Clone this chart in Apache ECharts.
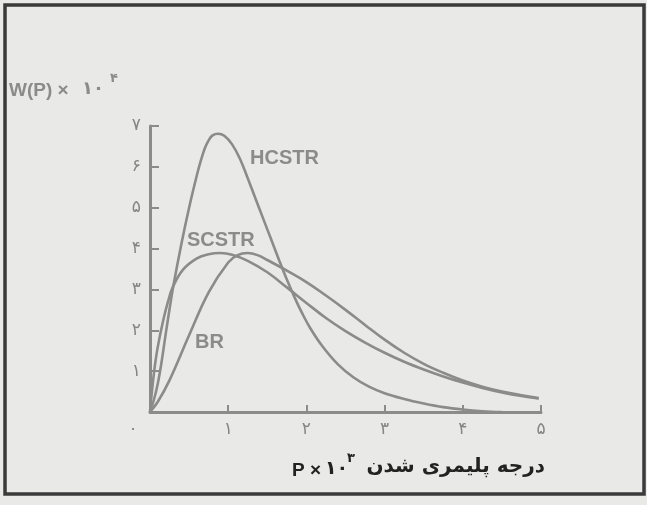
<!DOCTYPE html>
<html>
<head>
<meta charset="utf-8">
<script src="https://cdn.jsdelivr.net/npm/echarts@6/dist/echarts.min.js"></script>
<style>
html,body{margin:0;padding:0;background:#e9e9e8;}
#c{width:647px;height:505px;}
</style>
</head>
<body>
<div id="c"></div>
<script>
// Degree of polymerization P (x 10^3) and weight fraction W(P) (x 10^-4)
var hcstrP = [0, 0.05, 0.1, 0.15, 0.2, 0.25, 0.3, 0.4, 0.5, 0.6, 0.65, 0.7, 0.75, 0.8, 0.87, 0.95, 1.05, 1.15, 1.25, 1.35, 1.45, 1.55, 1.65, 1.75, 1.85, 1.95, 2.05, 2.2, 2.4, 2.6, 2.8, 3.0, 3.25, 3.5, 3.75, 4.0, 4.25, 4.5];
var hcstrW = [0, 0.3, 0.7, 1.25, 1.9, 2.52, 3.1, 4.1, 5.0, 5.8, 6.15, 6.45, 6.65, 6.77, 6.81, 6.76, 6.55, 6.2, 5.72, 5.22, 4.72, 4.22, 3.72, 3.24, 2.80, 2.40, 2.05, 1.62, 1.17, 0.85, 0.62, 0.46, 0.32, 0.21, 0.12, 0.06, 0.02, 0];

var scstrP = [0, 0.03, 0.06, 0.1, 0.17, 0.23, 0.29, 0.42, 0.6, 0.75, 0.9, 1.05, 1.25, 1.5, 1.75, 2.0, 2.25, 2.5, 2.75, 3.0, 3.25, 3.5, 3.75, 4.0, 4.25, 4.5, 4.75, 4.97];
var scstrW = [0, 0.6, 1.1, 1.6, 2.25, 2.7, 3.05, 3.48, 3.76, 3.86, 3.89, 3.85, 3.70, 3.42, 3.05, 2.67, 2.30, 1.98, 1.70, 1.45, 1.23, 1.04, 0.87, 0.72, 0.59, 0.48, 0.39, 0.33];

var brP = [0, 0.1, 0.25, 0.5, 0.75, 1.0, 1.12, 1.25, 1.375, 1.5, 1.75, 2.0, 2.25, 2.5, 2.75, 3.0, 3.25, 3.5, 3.75, 4.0, 4.25, 4.5, 4.75, 4.97];
var brW = [0, 0.25, 0.78, 1.88, 2.93, 3.66, 3.84, 3.89, 3.84, 3.72, 3.46, 3.18, 2.85, 2.5, 2.13, 1.77, 1.45, 1.18, 0.96, 0.77, 0.62, 0.5, 0.41, 0.34];

var xTicks = ['۰', '۱', '۲', '۳', '۴', '۵'];
var yTicks = ['۰', '۱', '۲', '۳', '۴', '۵', '۶', '۷'];

function pairs(p, w) { return p.map(function (v, i) { return [v, w[i]]; }); }

var grey = '#8b8b8b';
var chart = echarts.init(document.getElementById('c'), null, { renderer: 'canvas' });

function lineSeries(name, p, w) {
  return {
    name: name, type: 'line', data: pairs(p, w), smooth: 0.4, showSymbol: false,
    lineStyle: { color: grey, width: 2.6 }, silent: true, animation: false
  };
}

chart.setOption({
  backgroundColor: '#e9e9e8',
  animation: false,
  grid: { left: 150, right: 106, top: 126, bottom: 93 },
  xAxis: {
    type: 'value', min: 0, max: 5, interval: 1,
    axisLine: { lineStyle: { color: grey, width: 3 } },
    axisTick: { inside: true, length: 7, lineStyle: { color: grey, width: 2 } },
    splitLine: { show: false },
    axisLabel: {
      margin: 9, color: '#858585', fontSize: 17, fontFamily: 'DejaVu Sans',
      formatter: function (v) { return v === 0 ? '{z|' + xTicks[0] + '}' : xTicks[v]; },
      rich: { z: { color: '#858585', fontSize: 17, fontFamily: 'DejaVu Sans', padding: [0, 34, 0, 0] } }
    }
  },
  yAxis: {
    type: 'value', min: 0, max: 7, interval: 1,
    axisLine: { lineStyle: { color: grey, width: 3 } },
    axisTick: { inside: true, length: 9, lineStyle: { color: grey, width: 2 } },
    splitLine: { show: false },
    axisLabel: {
      margin: 9, color: '#858585', fontSize: 17, fontFamily: 'DejaVu Sans',
      formatter: function (v) { return v === 0 ? '' : yTicks[v]; }
    }
  },
  series: [
    lineSeries('HCSTR', hcstrP, hcstrW),
    lineSeries('SCSTR', scstrP, scstrW),
    lineSeries('BR', brP, brW)
  ],
  graphic: [
    { type: 'rect', shape: { x: 5, y: 5, width: 639, height: 489 },
      style: { fill: 'none', stroke: '#3a3a3a', lineWidth: 3.5 }, silent: true },
    { type: 'text', left: 250, top: 148, style: { text: 'HCSTR', fill: grey, font: 'bold 20px "Liberation Sans", Arial, sans-serif' } },
    { type: 'text', left: 187, top: 230, style: { text: 'SCSTR', fill: grey, font: 'bold 20px "Liberation Sans", Arial, sans-serif' } },
    { type: 'text', left: 195, top: 332, style: { text: 'BR', fill: grey, font: 'bold 20px "Liberation Sans", Arial, sans-serif' } },
    { type: 'text', left: 9, top: 81, style: { text: 'W(P) ×', fill: grey, font: 'bold 19px "Liberation Sans", Arial, sans-serif' } },
    { type: 'text', left: 82, top: 80, style: { text: '۱۰', fill: grey, font: 'bold 18px "DejaVu Sans", sans-serif' } },
    { type: 'text', left: 110, top: 72, style: { text: '۴', fill: grey, font: 'bold 13px "DejaVu Sans", sans-serif' } },
    { type: 'text', left: 292, top: 461, style: { text: 'P ×', fill: '#222', font: 'bold 19px "Liberation Sans", Arial, sans-serif' } },
    { type: 'text', left: 325, top: 460, style: { text: '۱۰', fill: '#222', font: 'bold 19px "DejaVu Sans", sans-serif' } },
    { type: 'text', left: 347, top: 452, style: { text: '۳', fill: '#222', font: 'bold 13px "DejaVu Sans", sans-serif' } },
    { type: 'text', right: 102, top: 457, style: { text: 'درجه پلیمری شدن', fill: '#222', font: 'bold 20px "DejaVu Sans", sans-serif' } }
  ]
});
</script>
</body>
</html>
